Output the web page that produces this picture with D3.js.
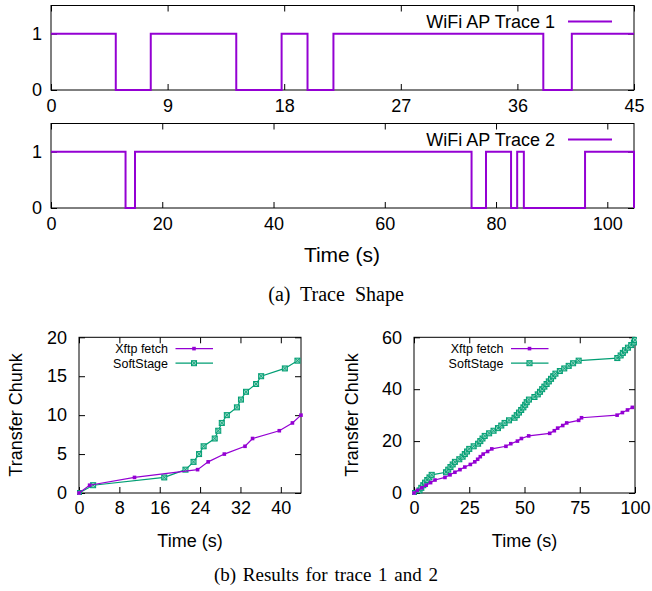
<!DOCTYPE html>
<html><head><meta charset="utf-8">
<script src="https://cdn.jsdelivr.net/npm/d3@7"></script>
<style>body{margin:0;background:#fff}</style>
</head><body>
<svg id="c" width="652" height="591" xmlns="http://www.w3.org/2000/svg"></svg>
<script>
// ---------- data ----------
const trace1Time  = [0, 5, 7.7, 14.3, 17.8, 19.8, 21.8, 38, 40.2, 45];
const trace1State = [1, 0, 1,   0,    1,    0,    1,    0,  1,    1];
const trace2Time  = [0, 13.4, 15.1, 75.6, 78.2, 82.7, 83.8, 85.0, 96.0, 104.8, 104.8];
const trace2State = [1, 0,    1,    0,    1,    0,    1,    0,    1,    1,     0];

const trace1Ticks = [0, 9, 18, 27, 36, 45];
const trace2Ticks = [0, 20, 40, 60, 80, 100];
const traceYTicks = [0, 1];

// Results for trace 1
const r1XftpTime  = [0, 2.1, 11, 23.5, 25.6, 28.8, 32.9, 34.4, 39.7, 42.3, 44];
const r1XftpChunk = [0, 1, 2, 3, 4, 5, 6, 7, 8, 9, 10];
const r1SoftTime  = [0, 2.8, 16.9, 21.1, 22.7, 23.8, 24.7, 26.9, 27.6, 28.3, 29.3, 31.3, 32.1, 33.1, 35.1, 36.1, 40.8, 43.3];
const r1SoftChunk = [0, 1, 2, 3, 4, 5, 6, 7, 8, 9, 10, 11, 12, 13, 14, 15, 16, 17];
const r1XTicks = [0, 8, 16, 24, 32, 40];
const r1YTicks = [0, 5, 10, 15, 20];

// Results for trace 2
const r2XftpTime  = [0, 1.5, 3.5, 5.5, 7.5, 9.5, 14, 16.3, 18.5, 20.8, 23, 25.5, 27.5, 28.8, 30, 31.3, 33.3, 35.2, 41.6, 43.8, 46.8, 48.6, 51.9, 61.4, 63.5, 65, 67.3, 69.1, 74.5, 75.8, 91.9, 94.3, 96.6, 98.8];
const r2XftpChunk = [0, 1, 2, 3, 4, 5, 6, 7, 8, 9, 10, 11, 12, 13, 14, 15, 16, 17, 18, 19, 20, 21, 22, 23, 24, 25, 26, 27, 28, 29, 30, 31, 32, 33];
const r2SoftTime  = [0, 2.5, 3.3, 4.2, 5, 6, 7, 8, 14.5, 15.5, 16.5, 17.5, 18.5, 20.5, 22, 23, 24, 25, 27, 29, 30, 31, 32, 34, 36, 38, 39.5, 41, 43, 45.5, 46.5, 47.5, 48.5, 49.5, 50.3, 51, 52, 54.5, 56, 57, 58, 59, 60, 61, 62, 63, 64, 66, 68, 70, 72, 74.5, 92, 93.5, 94.5, 95.5, 96.8, 98.3, 99.5, 100];
const r2SoftChunk = [0, 1, 2, 3, 4, 5, 6, 7, 8, 9, 10, 11, 12, 13, 14, 15, 16, 17, 18, 19, 20, 21, 22, 23, 24, 25, 26, 27, 28, 29, 30, 31, 32, 33, 34, 35, 36, 37, 38, 39, 40, 41, 42, 43, 44, 45, 46, 47, 48, 49, 50, 51, 52, 53, 54, 55, 56, 57, 58, 59];
const r2XTicks = [0, 25, 50, 75, 100];
const r2YTicks = [0, 20, 40, 60];

const PURPLE = "#9400d3";
const GREEN = "#009e73";
const SANS = "'Liberation Sans', Arial, Helvetica, sans-serif";
const SERIF = "'Liberation Serif', 'Times New Roman', serif";

const svg = d3.select("#c");
let clipId = 0;
const fmt = d3.format("d");

function panel(o) {
  const x = d3.scaleLinear().domain(o.xDomain).range([o.left, o.right]);
  const y = d3.scaleLinear().domain(o.yDomain).range([o.bottom, o.top]);
  const g = svg.append("g");
  const ts = 6;
  const axB = g.append("g").attr("transform", `translate(0,${o.bottom})`)
    .call(d3.axisBottom(x).tickValues(o.xTicks).tickFormat(fmt).tickSizeInner(-ts).tickSizeOuter(0).tickPadding(o.xPad));
  const axT = g.append("g").attr("transform", `translate(0,${o.top})`)
    .call(d3.axisTop(x).tickValues(o.xTicks).tickSizeInner(-ts).tickSizeOuter(0).tickFormat(""));
  const axL = g.append("g").attr("transform", `translate(${o.left},0)`)
    .call(d3.axisLeft(y).tickValues(o.yTicks).tickFormat(fmt).tickSizeInner(-ts).tickSizeOuter(0).tickPadding(o.yPad));
  const axR = g.append("g").attr("transform", `translate(${o.right},0)`)
    .call(d3.axisRight(y).tickValues(o.yTicks).tickSizeInner(-ts).tickSizeOuter(0).tickFormat(""));
  [axB, axT, axL, axR].forEach(a => {
    a.select(".domain").remove();
    a.selectAll("line").attr("stroke", "#000").attr("stroke-width", 1);
    a.selectAll("text").attr("font-family", SANS).attr("font-size", o.tickFont).attr("fill", "#000");
  });
  g.append("rect").attr("x", o.left).attr("y", o.top)
    .attr("width", o.right - o.left).attr("height", o.bottom - o.top)
    .attr("fill", "none").attr("stroke", "#000").attr("stroke-width", 1);
  const id = "clip" + (clipId++);
  svg.append("clipPath").attr("id", id).append("rect")
    .attr("x", o.left - 2).attr("y", o.top - 2)
    .attr("width", o.right - o.left + 4).attr("height", o.bottom - o.top + 4);
  const plot = g.append("g").attr("clip-path", `url(#${id})`);
  return {x, y, g, plot};
}

function filledSq(sel, cx, cy, s) {
  sel.append("rect").attr("x", cx - s/2).attr("y", cy - s/2).attr("width", s).attr("height", s)
    .attr("fill", PURPLE);
}
function boxSq(sel, cx, cy, s) {
  sel.append("rect").attr("x", cx - s/2).attr("y", cy - s/2).attr("width", s).attr("height", s)
    .attr("fill", "#8ed3bd").attr("stroke", GREEN).attr("stroke-width", 1);
  sel.append("path").attr("d", `M${cx-s/2},${cy-s/2}L${cx+s/2},${cy+s/2}M${cx+s/2},${cy-s/2}L${cx-s/2},${cy+s/2}`)
    .attr("stroke", GREEN).attr("stroke-width", 0.8);
}

// ---------- trace panels ----------
function tracePanel(times, states, ticks, dom, top, bottom, label) {
  const p = panel({xDomain: dom, yDomain: [0, 1.5], left: 51, right: 634, top, bottom,
    xTicks: ticks, yTicks: traceYTicks, xPad: 9, yPad: 9, tickFont: 18});
  const pts = times.map((t, i) => [t, states[i]]);
  p.plot.append("path").datum(pts)
    .attr("d", d3.line().x(d => p.x(d[0])).y(d => p.y(d[1])).curve(d3.curveStepAfter))
    .attr("fill", "none").attr("stroke", PURPLE).attr("stroke-width", 2);
  const ly = top + 16;
  p.g.append("text").attr("x", 555).attr("y", ly + 6.5).attr("text-anchor", "end")
    .attr("font-family", SANS).attr("font-size", 18).text(label);
  p.g.append("line").attr("x1", 568).attr("x2", 612).attr("y1", ly).attr("y2", ly)
    .attr("stroke", PURPLE).attr("stroke-width", 2);
  return p;
}
tracePanel(trace1Time, trace1State, trace1Ticks, [0, 45], 5.5, 90, "WiFi AP Trace 1");
tracePanel(trace2Time, trace2State, trace2Ticks, [0, 104.8], 123.5, 208, "WiFi AP Trace 2");

svg.append("text").attr("x", 342).attr("y", 262).attr("text-anchor", "middle")
  .attr("font-family", SANS).attr("font-size", 21).text("Time (s)");
svg.append("text").attr("x", 336).attr("y", 301).attr("text-anchor", "middle")
  .attr("font-family", SERIF).attr("font-size", 20).attr("word-spacing", 5).text("(a) Trace Shape");

// ---------- result panels ----------
function resultPanel(o) {
  const p = panel({xDomain: o.xDomain, yDomain: o.yDomain, left: o.left, right: o.right, top: 337.3, bottom: 493,
    xTicks: o.xTicks, yTicks: o.yTicks, xPad: 8, yPad: 12, tickFont: 18});
  const line = d3.line().x(d => p.x(d[0])).y(d => p.y(d[1]));
  const xf = o.xftpT.map((t, i) => [t, o.xftpC[i]]);
  const sf = o.softT.map((t, i) => [t, o.softC[i]]);
  p.plot.append("path").datum(sf).attr("d", line).attr("fill", "none").attr("stroke", GREEN).attr("stroke-width", 1.2);
  sf.forEach(d => boxSq(p.plot, p.x(d[0]), p.y(d[1]), 5));
  p.plot.append("path").datum(xf).attr("d", line).attr("fill", "none").attr("stroke", PURPLE).attr("stroke-width", 1.2);
  xf.forEach(d => filledSq(p.plot, p.x(d[0]), p.y(d[1]), 3.6));
  const lg = p.g.append("g");
  [["Xftp fetch", 348.6, "x"], ["SoftStage", 363.2, "s"]].forEach(([txt, yy, k]) => {
    lg.append("text").attr("x", o.legX).attr("y", yy + 4.4).attr("text-anchor", "end")
      .attr("font-family", SANS).attr("font-size", 12.5).text(txt);
    lg.append("line").attr("x1", o.legX + 7.5).attr("x2", o.legX + 45).attr("y1", yy).attr("y2", yy)
      .attr("stroke", k === "x" ? PURPLE : GREEN).attr("stroke-width", 1.2);
    const cx = o.legX + 26;
    if (k === "x") filledSq(lg, cx, yy, 3.6); else boxSq(lg, cx, yy, 5);
  });
  svg.append("text").attr("x", (o.left + o.right) / 2).attr("y", 546.5).attr("text-anchor", "middle")
    .attr("font-family", SANS).attr("font-size", 18).text("Time (s)");
  svg.append("text").attr("transform", `translate(${o.ylabX},415) rotate(-90)`).attr("text-anchor", "middle")
    .attr("dy", "0.35em").attr("font-family", SANS).attr("font-size", 18).text("Transfer Chunk");
}
resultPanel({xDomain: [0, 44], yDomain: [0, 20], left: 79, right: 301, xTicks: r1XTicks, yTicks: r1YTicks,
  xftpT: r1XftpTime, xftpC: r1XftpChunk, softT: r1SoftTime, softC: r1SoftChunk, legX: 168, ylabX: 16});
resultPanel({xDomain: [0, 100], yDomain: [0, 60], left: 414, right: 635, xTicks: r2XTicks, yTicks: r2YTicks,
  xftpT: r2XftpTime, xftpC: r2XftpChunk, softT: r2SoftTime, softC: r2SoftChunk, legX: 503.5, ylabX: 351.5});

svg.append("text").attr("x", 326).attr("y", 581).attr("text-anchor", "middle")
  .attr("font-family", SERIF).attr("font-size", 19).attr("word-spacing", 2).text("(b) Results for trace 1 and 2");
</script>
</body></html>
